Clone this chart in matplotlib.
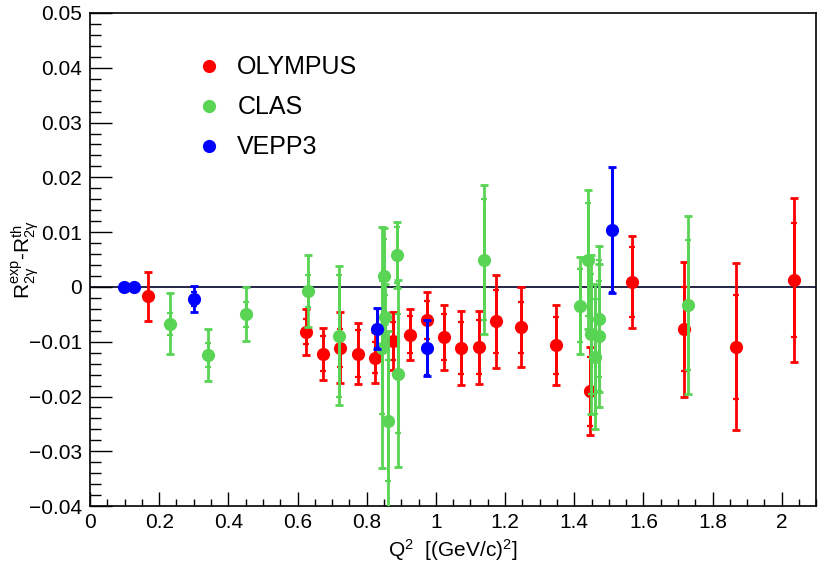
import matplotlib
matplotlib.use("Agg")
import matplotlib.pyplot as plt
from matplotlib.lines import Line2D
from matplotlib.ticker import MultipleLocator, FixedLocator, FixedFormatter

plt.rcParams['font.family'] = ['Liberation Sans', 'DejaVu Sans']
plt.rcParams['mathtext.fontset'] = 'custom'
plt.rcParams['mathtext.rm'] = 'Liberation Sans'
plt.rcParams['mathtext.it'] = 'Liberation Sans:italic'
plt.rcParams['mathtext.bf'] = 'Liberation Sans:bold'

# ---------------- data ----------------
olympus_q2 = [0.167, 0.624, 0.674, 0.724, 0.775, 0.825, 0.875, 0.925, 0.973, 1.024,
              1.074, 1.124, 1.174, 1.246, 1.346, 1.445, 1.567, 1.716, 1.867, 2.036]
olympus_val = [-0.0017, -0.0082, -0.0122, -0.0111, -0.0122, -0.0129, -0.0099, -0.0087, -0.0060, -0.0092,
               -0.0111, -0.0110, -0.0063, -0.0074, -0.0106, -0.0190, 0.0009, -0.0077, -0.0109, 0.0013]
olympus_tot = [0.0045, 0.0042, 0.0047, 0.0065, 0.0056, 0.0047, 0.0053, 0.0047, 0.0051, 0.0059,
               0.0068, 0.0067, 0.0085, 0.0073, 0.0073, 0.0081, 0.0084, 0.0123, 0.0152, 0.0150]
olympus_stat = [0.0008, 0.0023, 0.0032, 0.0035, 0.0043, 0.0028, 0.0035, 0.0034, 0.0035, 0.0042,
                0.0047, 0.0049, 0.0058, 0.0046, 0.0052, 0.0063, 0.0063, 0.0077, 0.0095, 0.0104]

clas_q2 = [0.231, 0.340, 0.451, 0.631, 0.721, 0.845, 0.851, 0.853, 0.861, 0.889,
           0.891, 1.139, 1.418, 1.440, 1.448, 1.459, 1.471, 1.472, 1.729]
clas_val = [-0.0067, -0.0124, -0.0050, -0.0007, -0.0089, -0.0111, 0.0020, -0.0054, -0.0244, 0.0058,
            -0.0158, 0.0050, -0.0034, 0.0050, -0.0086, -0.0127, -0.0058, -0.0089, -0.0033]
clas_tot = [0.0056, 0.0048, 0.0049, 0.0066, 0.0127, 0.0220, 0.0087, 0.0060, 0.0164, 0.0060,
            0.0170, 0.0136, 0.0088, 0.0126, 0.0145, 0.0132, 0.0133, 0.0130, 0.0163]
clas_stat = [0.0020, 0.0022, 0.0023, 0.0029, 0.0111, 0.0121, 0.0067, 0.0040, 0.0110, 0.0051,
             0.0109, 0.0111, 0.0067, 0.0103, 0.0110, 0.0105, 0.0107, 0.0100, 0.0118]

vepp3_q2 = [0.098, 0.128, 0.300, 0.830, 0.975, 1.510]
vepp3_val = [0.0, 0.0, -0.0022, -0.0076, -0.0112, 0.0104]
vepp3_tot = [0.0004, 0.0004, 0.0024, 0.0038, 0.0051, 0.0115]
vepp3_stat = [0.0003, 0.0003, 0.0012, 0.0036, 0.0049, 0.0113]

series_names = ['OLYMPUS', 'CLAS', 'VEPP3']
series_colors = ['#ff0000', '#59d454', '#0000ff']

xtick_vals = [0, 0.2, 0.4, 0.6, 0.8, 1.0, 1.2, 1.4, 1.6, 1.8, 2.0]
xtick_labels = ['0', '0.2', '0.4', '0.6', '0.8', '1', '1.2', '1.4', '1.6', '1.8', '2']
ytick_vals = [-0.04, -0.03, -0.02, -0.01, 0, 0.01, 0.02, 0.03, 0.04, 0.05]
ytick_labels = ['\u22120.04', '\u22120.03', '\u22120.02', '\u22120.01', '0',
                '0.01', '0.02', '0.03', '0.04', '0.05']

# ---------------- figure ----------------
fig = plt.figure(figsize=(8.18, 5.63), dpi=100)
ax = fig.add_axes([0.110, 0.101, 0.888, 0.876])

ax.axhline(0, color='#000028', lw=1.2, zorder=1)

datasets = [
    (olympus_q2, olympus_val, olympus_tot, olympus_stat),
    (clas_q2, clas_val, clas_tot, clas_stat),
    (vepp3_q2, vepp3_val, vepp3_tot, vepp3_stat),
]
z = 2
for (q, v, et, es), col in zip(datasets, series_colors):
    ax.errorbar(q, v, yerr=et, fmt='none', ecolor=col, elinewidth=2.0,
                capsize=2.6, capthick=2.0, zorder=z)
    ax.errorbar(q, v, yerr=es, fmt='none', ecolor=col, elinewidth=2.0,
                capsize=2.2, capthick=1.6, zorder=z)
    ax.plot(q, v, 'o', color=col, markersize=9.5, markeredgewidth=0, zorder=z + 0.5)
    z += 1

ax.set_xlim(0, 2.1)
ax.set_ylim(-0.04, 0.05)

ax.xaxis.set_major_locator(FixedLocator(xtick_vals))
ax.xaxis.set_major_formatter(FixedFormatter(xtick_labels))
ax.yaxis.set_major_locator(FixedLocator(ytick_vals))
ax.yaxis.set_major_formatter(FixedFormatter(ytick_labels))
ax.xaxis.set_minor_locator(MultipleLocator(0.05))
ax.yaxis.set_minor_locator(MultipleLocator(0.002))

ax.tick_params(axis='both', which='both', direction='in', top=False, right=False,
               width=1.0, colors='black', labelsize=15)
ax.tick_params(axis='y', which='major', length=15.8, pad=5.5)
ax.tick_params(axis='y', which='minor', length=8)
ax.tick_params(axis='x', which='major', length=10, pad=5)
ax.tick_params(axis='x', which='minor', length=5)
for s in ax.spines.values():
    s.set_linewidth(1.2)

ax.set_ylabel(r'$\mathrm{R^{exp}_{2\gamma}}$-$\mathrm{R^{th}_{2\gamma}}$', fontsize=15)
ax.yaxis.set_label_coords(-0.068, 0.5)
ax.set_xlabel(r'$\mathrm{Q^{2}}$  [(GeV/c)$^{2}$]', fontsize=15)
ax.xaxis.set_label_coords(0.5, -0.062)

handles = [Line2D([], [], marker='o', ls='none', color=c, markersize=9.5, markeredgewidth=0)
           for c in series_colors]
ax.legend(handles, series_names, loc='upper left', bbox_to_anchor=(0.146, 0.914),
          frameon=False, fontsize=18, handlelength=1.0, handletextpad=0.65,
          labelspacing=0.64, borderaxespad=0, borderpad=0)

fig.savefig('out.png', dpi=100)
